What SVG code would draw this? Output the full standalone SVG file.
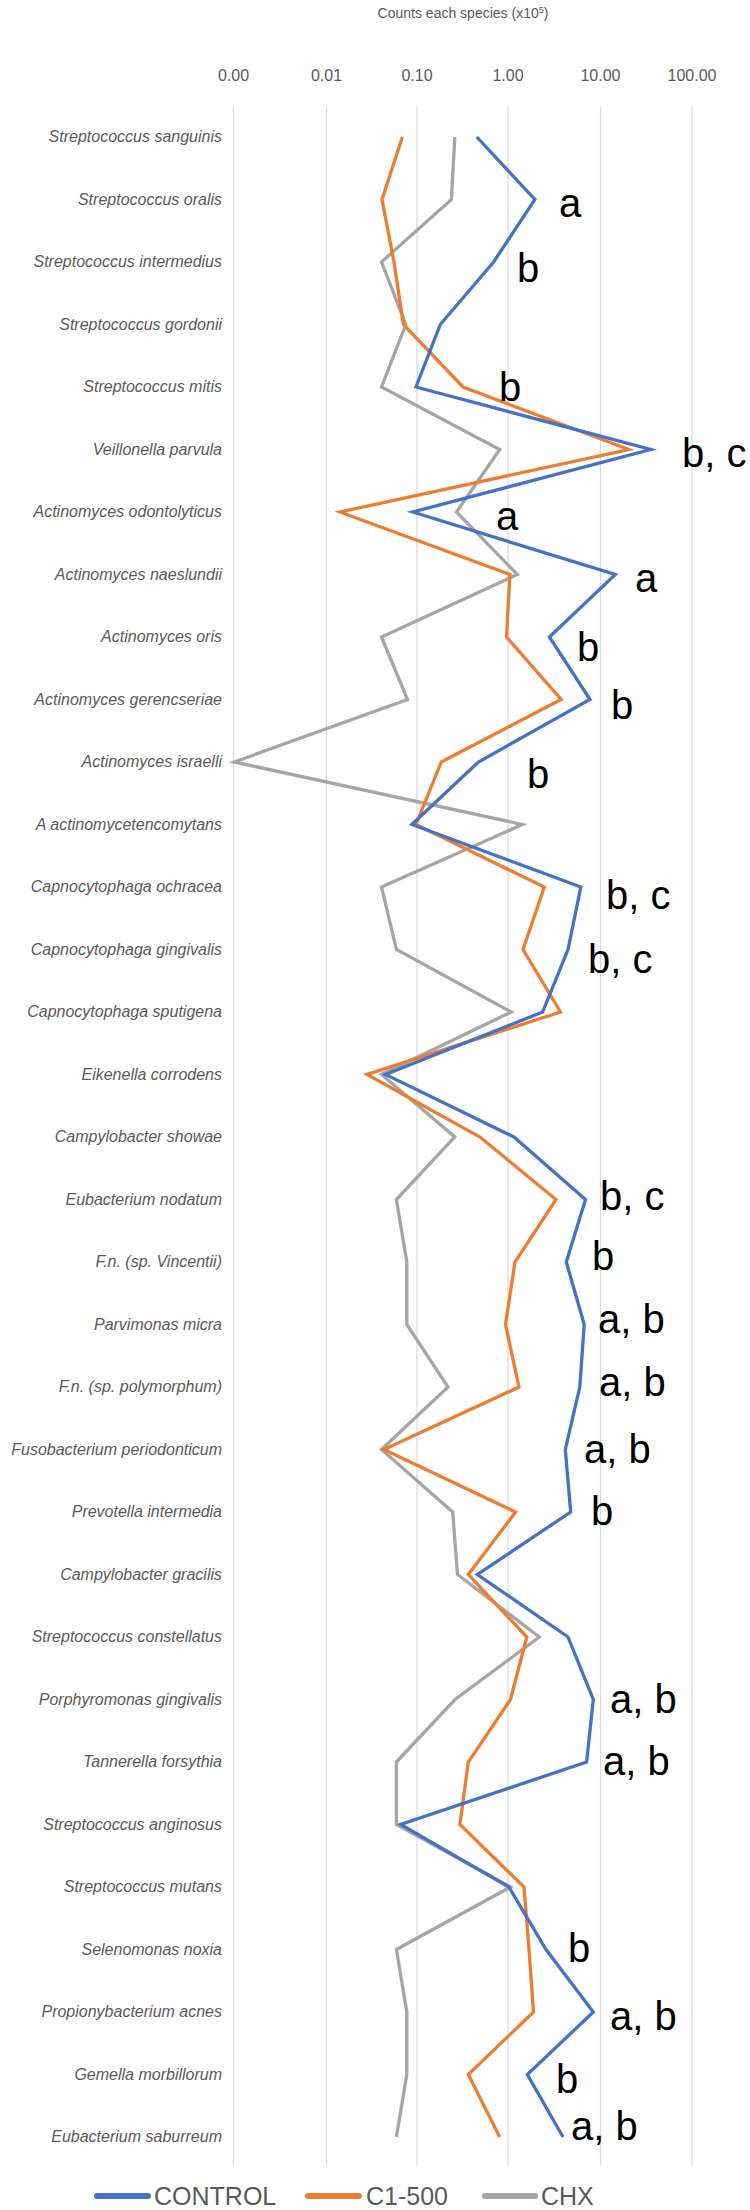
<svg xmlns="http://www.w3.org/2000/svg" width="750" height="2210" viewBox="0 0 750 2210">
<style>
.grid{stroke:#d9d9d9;stroke-width:1.2}
.tick{font-family:"Liberation Sans",Arial,sans-serif;font-size:16px;fill:#595959;text-anchor:middle}
.sp{font-family:"Liberation Sans",Arial,sans-serif;font-size:16px;font-style:italic;fill:#595959;text-anchor:end}
.sig{font-family:"Liberation Sans",Arial,sans-serif;font-size:40px;fill:#000}
.ser{fill:none;stroke-width:3.3;stroke-linejoin:miter}
.leg{font-family:"Liberation Sans",Arial,sans-serif;font-size:25px;fill:#595959}
</style>
<rect width="750" height="2210" fill="#fff"/>
<text x="463" y="18" font-family="Liberation Sans, Arial, sans-serif" font-size="14" fill="#595959" text-anchor="middle">Counts each species  (x10<tspan font-size="9" dy="-5">5</tspan><tspan dy="5">)</tspan></text>
<g id="axis">
<line class="grid" x1="233.5" y1="107" x2="233.5" y2="2165"/>
<line class="grid" x1="326.5" y1="107" x2="326.5" y2="2165"/>
<line class="grid" x1="417" y1="107" x2="417" y2="2165"/>
<line class="grid" x1="508" y1="107" x2="508" y2="2165"/>
<line class="grid" x1="600.5" y1="107" x2="600.5" y2="2165"/>
<line class="grid" x1="692" y1="107" x2="692" y2="2165"/>
<text class="tick" x="233.5" y="81">0.00</text>
<text class="tick" x="326.5" y="81">0.01</text>
<text class="tick" x="417" y="81">0.10</text>
<text class="tick" x="508" y="81">1.00</text>
<text class="tick" x="600.5" y="81">10.00</text>
<text class="tick" x="692" y="81">100.00</text>
</g>
<g id="species">
<text class="sp" x="222" y="142">Streptococcus sanguinis</text>
<text class="sp" x="222" y="204.5">Streptococcus oralis</text>
<text class="sp" x="222" y="267">Streptococcus intermedius</text>
<text class="sp" x="222" y="329.5">Streptococcus gordonii</text>
<text class="sp" x="222" y="392">Streptococcus mitis</text>
<text class="sp" x="222" y="454.5">Veillonella parvula</text>
<text class="sp" x="222" y="517">Actinomyces odontolyticus</text>
<text class="sp" x="222" y="579.5">Actinomyces naeslundii</text>
<text class="sp" x="222" y="642">Actinomyces oris</text>
<text class="sp" x="222" y="704.5">Actinomyces gerencseriae</text>
<text class="sp" x="222" y="767">Actinomyces israelli</text>
<text class="sp" x="222" y="829.5">A actinomycetencomytans</text>
<text class="sp" x="222" y="892">Capnocytophaga ochracea</text>
<text class="sp" x="222" y="954.5">Capnocytophaga gingivalis</text>
<text class="sp" x="222" y="1017">Capnocytophaga sputigena</text>
<text class="sp" x="222" y="1079.5">Eikenella corrodens</text>
<text class="sp" x="222" y="1142">Campylobacter showae</text>
<text class="sp" x="222" y="1204.5">Eubacterium nodatum</text>
<text class="sp" x="222" y="1267">F.n. (sp. Vincentii)</text>
<text class="sp" x="222" y="1329.5">Parvimonas micra</text>
<text class="sp" x="222" y="1392">F.n. (sp. polymorphum)</text>
<text class="sp" x="222" y="1454.5">Fusobacterium periodonticum</text>
<text class="sp" x="222" y="1517">Prevotella intermedia</text>
<text class="sp" x="222" y="1579.5">Campylobacter gracilis</text>
<text class="sp" x="222" y="1642">Streptococcus constellatus</text>
<text class="sp" x="222" y="1704.5">Porphyromonas gingivalis</text>
<text class="sp" x="222" y="1767">Tannerella forsythia</text>
<text class="sp" x="222" y="1829.5">Streptococcus anginosus</text>
<text class="sp" x="222" y="1892">Streptococcus mutans</text>
<text class="sp" x="222" y="1954.5">Selenomonas noxia</text>
<text class="sp" x="222" y="2017">Propionybacterium acnes</text>
<text class="sp" x="222" y="2079.5">Gemella morbillorum</text>
<text class="sp" x="222" y="2142">Eubacterium saburreum</text>
</g>
<g id="connectors">
<polyline id="chx" class="ser" stroke="#A5A5A5" points="454.8,137 451.4,199.5 381.5,262 405.8,324.5 381.5,387 499.7,449.5 456.5,512 517.3,574.5 381.5,637 407.5,699.5 234.2,762 522.4,824.5 381.5,887 396.4,949.5 511.2,1012 381.5,1074.5 454.8,1137 396.4,1199.5 406.8,1262 406.8,1324.5 448,1387 381.5,1449.5 452.7,1512 457.5,1574.5 539.3,1637 455,1699.5 396.4,1762 396.4,1824.5 510.5,1887 396.4,1949.5 406.8,2012 406.8,2074.5 396.4,2137"/>
<polyline id="c1" class="ser" stroke="#ED7D31" points="402.4,137 382,199.5 394,262 403.4,324.5 463,387 628.8,449.5 340,512 509.9,574.5 506.5,637 561.2,699.5 441.3,762 416,824.5 544.3,887 523,949.5 560.5,1012 367,1074.5 480,1137 556,1199.5 515,1262 505.5,1324.5 519,1387 383.9,1449.5 515.6,1512 468.3,1574.5 526.8,1637 510.5,1699.5 468.3,1762 459.9,1824.5 524,1887 529,1949.5 533.5,2012 468.3,2074.5 499.7,2137"/>
<polyline id="control" class="ser" stroke="#4472C4" points="476.8,137 534.9,199.5 493.6,262 440.3,324.5 416,387 650.7,449.5 412.6,512 615.3,574.5 549.4,637 590,699.5 478.4,762 411.9,824.5 580.8,887 568,949.5 542.6,1012 385.5,1074.5 513.9,1137 585.5,1199.5 566.3,1262 584.2,1324.5 579.8,1387 565.3,1449.5 570.7,1512 477.4,1574.5 568,1637 593.3,1699.5 586.6,1762 400.7,1824.5 508.9,1887 546,1949.5 593.3,2012 527.4,2074.5 563,2137"/>
</g>
<g id="significance">
<text class="sig" x="559" y="217">a</text>
<text class="sig" x="517" y="282">b</text>
<text class="sig" x="499" y="401">b</text>
<text class="sig" x="682" y="467">b, c</text>
<text class="sig" x="496" y="530">a</text>
<text class="sig" x="635" y="592">a</text>
<text class="sig" x="577" y="661">b</text>
<text class="sig" x="611" y="719">b</text>
<text class="sig" x="527" y="788">b</text>
<text class="sig" x="606" y="909">b, c</text>
<text class="sig" x="588" y="973">b, c</text>
<text class="sig" x="600" y="1210">b, c</text>
<text class="sig" x="592" y="1270">b</text>
<text class="sig" x="598" y="1333">a, b</text>
<text class="sig" x="599" y="1396">a, b</text>
<text class="sig" x="584" y="1463">a, b</text>
<text class="sig" x="591" y="1525">b</text>
<text class="sig" x="610" y="1713">a, b</text>
<text class="sig" x="603" y="1775">a, b</text>
<text class="sig" x="568" y="1962">b</text>
<text class="sig" x="610" y="2030">a, b</text>
<text class="sig" x="556" y="2093">b</text>
<text class="sig" x="571" y="2140">a, b</text>
</g>
<g id="legend">
<line x1="97" y1="2196" x2="148" y2="2196" stroke="#4472C4" stroke-width="6" stroke-linecap="round"/>
<text class="leg" x="154" y="2205">CONTROL</text>
<line x1="308" y1="2196" x2="359" y2="2196" stroke="#ED7D31" stroke-width="6" stroke-linecap="round"/>
<text class="leg" x="366" y="2205">C1-500</text>
<line x1="485" y1="2196" x2="535" y2="2196" stroke="#A5A5A5" stroke-width="6" stroke-linecap="round"/>
<text class="leg" x="541" y="2205">CHX</text>
</g>
</svg>
